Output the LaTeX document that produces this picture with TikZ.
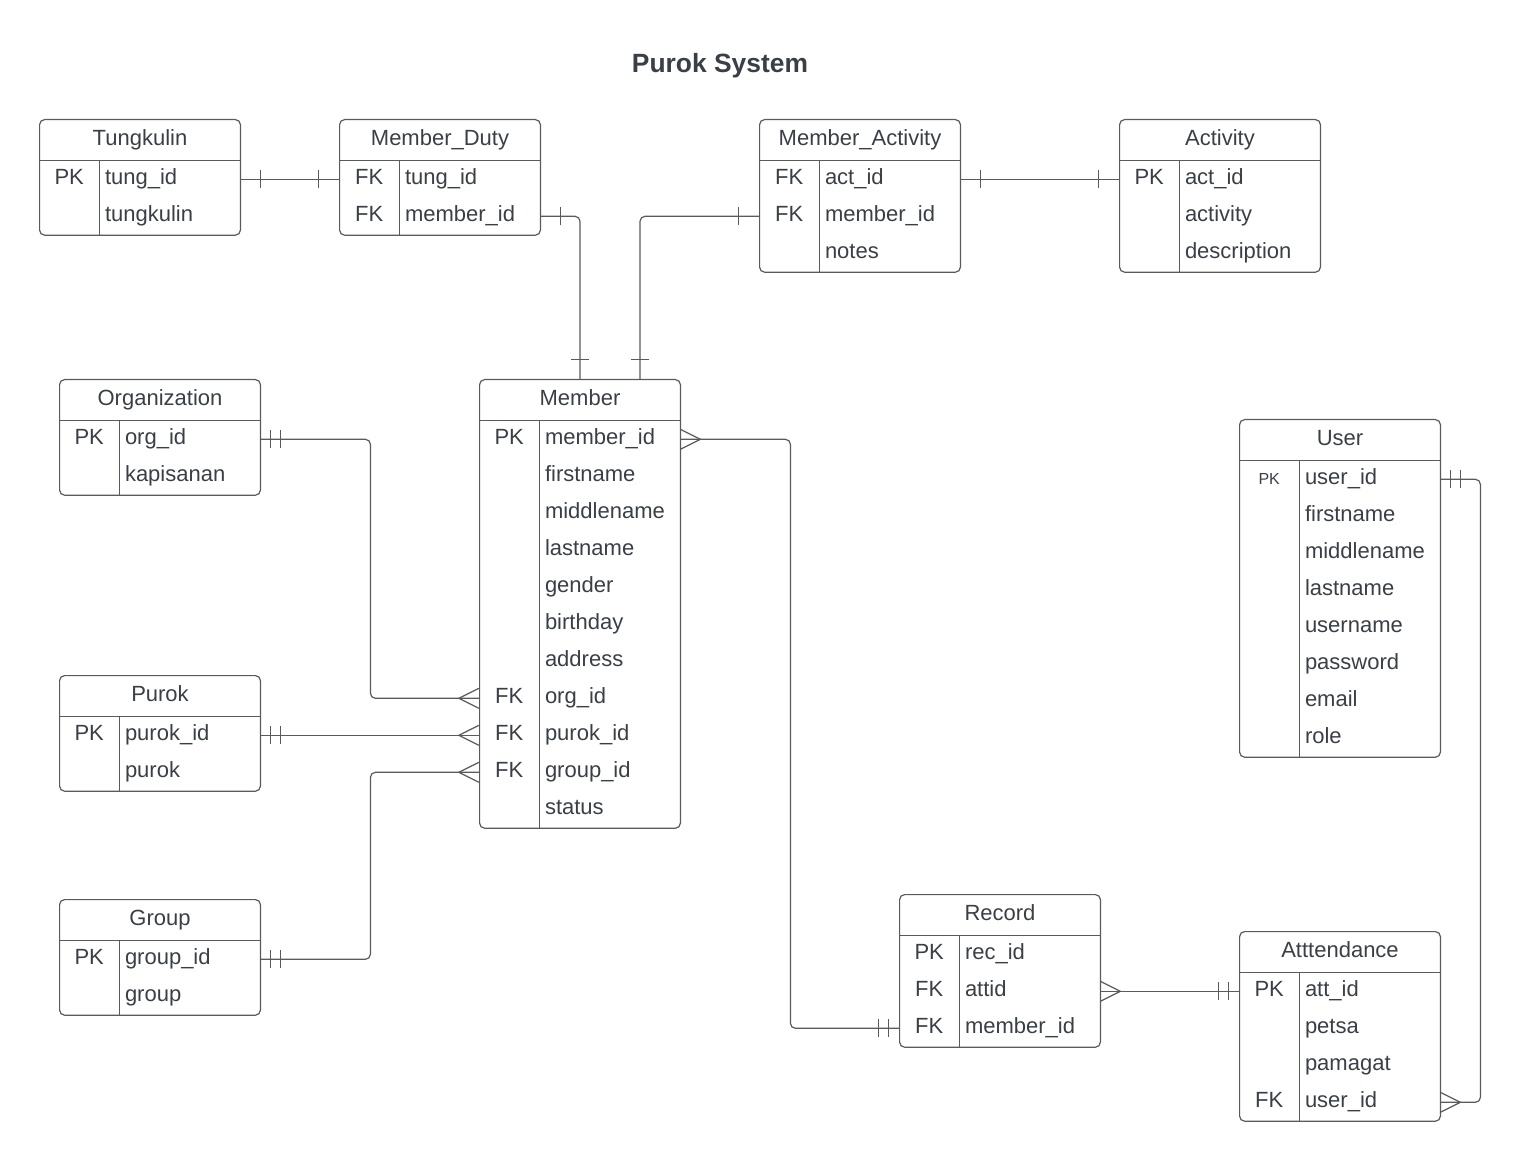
\documentclass[tikz,border=0pt]{standalone}
\usepackage{fontspec}
\setmainfont{Liberation Sans}
\usepackage{tikz}
\usepackage{xcolor}
\usetikzlibrary{calc,positioning}
\definecolor{inkgray}{HTML}{3A3F47}
\definecolor{linegray}{HTML}{5A5A5A}

% ER end marks
\pgfdeclarearrow{
	name = erone,
	setup code = {
		\pgfarrowssettipend{0pt}
		\pgfarrowssetlineend{0pt}
		\pgfarrowssetbackend{-10pt}
		\pgfarrowshullpoint{0pt}{4.5pt}
		\pgfarrowshullpoint{0pt}{-4.5pt}
		\pgfarrowshullpoint{-10pt}{4.5pt}
		\pgfarrowshullpoint{-10pt}{-4.5pt}
	},
	drawing code = {
		\pgfpathmoveto{\pgfpoint{-10pt}{4.5pt}}
		\pgfpathlineto{\pgfpoint{-10pt}{-4.5pt}}
		\pgfusepathqstroke
	}
}
\pgfdeclarearrow{
	name = ertwo,
	setup code = {
		\pgfarrowssettipend{0pt}
		\pgfarrowssetlineend{0pt}
		\pgfarrowssetbackend{-10pt}
		\pgfarrowshullpoint{0pt}{4.5pt}
		\pgfarrowshullpoint{0pt}{-4.5pt}
		\pgfarrowshullpoint{-10pt}{4.5pt}
		\pgfarrowshullpoint{-10pt}{-4.5pt}
	},
	drawing code = {
		\pgfpathmoveto{\pgfpoint{-5pt}{4.5pt}}
		\pgfpathlineto{\pgfpoint{-5pt}{-4.5pt}}
		\pgfpathmoveto{\pgfpoint{-10pt}{4.5pt}}
		\pgfpathlineto{\pgfpoint{-10pt}{-4.5pt}}
		\pgfusepathqstroke
	}
}
\pgfdeclarearrow{
	name = ermany,
	setup code = {
		\pgfarrowssettipend{0pt}
		\pgfarrowssetlineend{0pt}
		\pgfarrowssetbackend{-10pt}
		\pgfarrowshullpoint{0pt}{5pt}
		\pgfarrowshullpoint{0pt}{-5pt}
		\pgfarrowshullpoint{-10pt}{0pt}
	},
	drawing code = {
		\pgfpathmoveto{\pgfpoint{0pt}{5pt}}
		\pgfpathlineto{\pgfpoint{-10pt}{0pt}}
		\pgfpathlineto{\pgfpoint{0pt}{-5pt}}
		\pgfusepathqstroke
	}
}

\tikzset{%
	tabhead/.style = {minimum width=100pt, minimum height=20pt, inner sep=0pt, text centered, text height=8pt, text depth=2.5pt},
	field/.style   = {anchor=north east, text width=65pt, inner xsep=2.5pt, inner ysep=0pt, minimum height=18.5pt, align=left, text height=8pt, text depth=2.5pt},
	key/.style     = {minimum width=30pt, minimum height=18.5pt, inner sep=0pt, text centered, text height=8pt, text depth=2.5pt},
	tabbox/.style  = {draw=linegray, line width=0.6pt, rounded corners=2.5pt},
	tabline/.style = {draw=linegray, line width=0.6pt},
	rel/.style     = {draw=linegray, line width=0.6pt, rounded corners=2.5pt},
}

\begin{document}
\begin{tikzpicture}[x=0.5pt, y=-0.5pt, font=\fontsize{11}{13}\selectfont, text=inkgray]
	\useasboundingbox (0,0) rectangle (1521,1160);
	\node[font=\bfseries\fontsize{13.2}{15}\selectfont] (title) at (720,66) {Purok System};
	
	% Tungkulin
	\node[tabhead] (tung) at (140,140) {Tungkulin};
	\foreach \ky/\fd [count=\i] in {PK/tung\_id, /tungkulin}{
		\node[field] (tung-\i) at ([yshift={-(\i-1)*18.5pt}]tung.south east) {\fd};
		\node[key, left=0pt of tung-\i] (tung-k\i) {\ky};
	}
	\draw[tabbox] (tung.north west) rectangle (tung-2.south east);
	\draw[tabline] (tung.south west) -- (tung.south east);
	\draw[tabline] (tung-1.north west) -- (tung-2.south west);
	
	% Member_Duty
	\node[tabhead] (md) at (440,140) {Member\_Duty};
	\foreach \ky/\fd [count=\i] in {FK/tung\_id, FK/member\_id}{
		\node[field] (md-\i) at ([yshift={-(\i-1)*18.5pt}]md.south east) {\fd};
		\node[key, left=0pt of md-\i] (md-k\i) {\ky};
	}
	\draw[tabbox] (md.north west) rectangle (md-2.south east);
	\draw[tabline] (md.south west) -- (md.south east);
	\draw[tabline] (md-1.north west) -- (md-2.south west);
	
	% Member_Activity
	\node[tabhead] (ma) at (860,140) {Member\_Activity};
	\foreach \ky/\fd [count=\i] in {FK/act\_id, FK/member\_id, /notes}{
		\node[field] (ma-\i) at ([yshift={-(\i-1)*18.5pt}]ma.south east) {\fd};
		\node[key, left=0pt of ma-\i] (ma-k\i) {\ky};
	}
	\draw[tabbox] (ma.north west) rectangle (ma-3.south east);
	\draw[tabline] (ma.south west) -- (ma.south east);
	\draw[tabline] (ma-1.north west) -- (ma-3.south west);
	
	% Activity
	\node[tabhead] (act) at (1220,140) {Activity};
	\foreach \ky/\fd [count=\i] in {PK/act\_id, /activity, /description}{
		\node[field] (act-\i) at ([yshift={-(\i-1)*18.5pt}]act.south east) {\fd};
		\node[key, left=0pt of act-\i] (act-k\i) {\ky};
	}
	\draw[tabbox] (act.north west) rectangle (act-3.south east);
	\draw[tabline] (act.south west) -- (act.south east);
	\draw[tabline] (act-1.north west) -- (act-3.south west);
	
	% Organization
	\node[tabhead] (org) at (160,400) {Organization};
	\foreach \ky/\fd [count=\i] in {PK/org\_id, /kapisanan}{
		\node[field] (org-\i) at ([yshift={-(\i-1)*18.5pt}]org.south east) {\fd};
		\node[key, left=0pt of org-\i] (org-k\i) {\ky};
	}
	\draw[tabbox] (org.north west) rectangle (org-2.south east);
	\draw[tabline] (org.south west) -- (org.south east);
	\draw[tabline] (org-1.north west) -- (org-2.south west);
	
	% Member
	\node[tabhead] (mem) at (580,400) {Member};
	\foreach \ky/\fd [count=\i] in {PK/member\_id, /firstname, /middlename, /lastname, /gender, /birthday, /address, FK/org\_id, FK/purok\_id, FK/group\_id, /status}{
		\node[field] (mem-\i) at ([yshift={-(\i-1)*18.5pt}]mem.south east) {\fd};
		\node[key, left=0pt of mem-\i] (mem-k\i) {\ky};
	}
	\draw[tabbox] (mem.north west) rectangle (mem-11.south east);
	\draw[tabline] (mem.south west) -- (mem.south east);
	\draw[tabline] (mem-1.north west) -- (mem-11.south west);
	
	% Purok
	\node[tabhead] (pur) at (160,696) {Purok};
	\foreach \ky/\fd [count=\i] in {PK/purok\_id, /purok}{
		\node[field] (pur-\i) at ([yshift={-(\i-1)*18.5pt}]pur.south east) {\fd};
		\node[key, left=0pt of pur-\i] (pur-k\i) {\ky};
	}
	\draw[tabbox] (pur.north west) rectangle (pur-2.south east);
	\draw[tabline] (pur.south west) -- (pur.south east);
	\draw[tabline] (pur-1.north west) -- (pur-2.south west);
	
	% Group
	\node[tabhead] (grp) at (160,920) {Group};
	\foreach \ky/\fd [count=\i] in {PK/group\_id, /group}{
		\node[field] (grp-\i) at ([yshift={-(\i-1)*18.5pt}]grp.south east) {\fd};
		\node[key, left=0pt of grp-\i] (grp-k\i) {\ky};
	}
	\draw[tabbox] (grp.north west) rectangle (grp-2.south east);
	\draw[tabline] (grp.south west) -- (grp.south east);
	\draw[tabline] (grp-1.north west) -- (grp-2.south west);
	
	% User
	\node[tabhead] (usr) at (1340,440) {User};
	\foreach \ky/\fd [count=\i] in {{\footnotesize PK}/user\_id, /firstname, /middlename, /lastname, /username, /password, /email, /role}{
		\node[field] (usr-\i) at ([yshift={-(\i-1)*18.5pt}]usr.south east) {\fd};
		\node[key, left=0pt of usr-\i] (usr-k\i) {\ky};
	}
	\draw[tabbox] (usr.north west) rectangle (usr-8.south east);
	\draw[tabline] (usr.south west) -- (usr.south east);
	\draw[tabline] (usr-1.north west) -- (usr-8.south west);
	
	% Record
	\node[tabhead] (rec) at (1000,915) {Record};
	\foreach \ky/\fd [count=\i] in {PK/rec\_id, FK/attid, FK/member\_id}{
		\node[field] (rec-\i) at ([yshift={-(\i-1)*18.5pt}]rec.south east) {\fd};
		\node[key, left=0pt of rec-\i] (rec-k\i) {\ky};
	}
	\draw[tabbox] (rec.north west) rectangle (rec-3.south east);
	\draw[tabline] (rec.south west) -- (rec.south east);
	\draw[tabline] (rec-1.north west) -- (rec-3.south west);
	
	% Atttendance
	\node[tabhead] (att) at (1340,952) {Atttendance};
	\foreach \ky/\fd [count=\i] in {PK/att\_id, /petsa, /pamagat, FK/user\_id}{
		\node[field] (att-\i) at ([yshift={-(\i-1)*18.5pt}]att.south east) {\fd};
		\node[key, left=0pt of att-\i] (att-k\i) {\ky};
	}
	\draw[tabbox] (att.north west) rectangle (att-4.south east);
	\draw[tabline] (att.south west) -- (att.south east);
	\draw[tabline] (att-1.north west) -- (att-4.south west);
	
	% relationships
	\draw[rel, erone-erone] (tung-1.east) -- (md-k1.west);
	\draw[rel, erone-erone] (md-2.east) -| (mem.north);
	\draw[rel, erone-erone] (ma-k2.west) -| ([xshift=30pt]mem.north);
	\draw[rel, erone-erone] (ma-1.east) -- (act-k1.west);
	\draw[rel, ertwo-ermany] (org-1.east) -- ++(110,0) |- (mem-k8.west);
	\draw[rel, ertwo-ermany] (pur-1.east) -- (mem-k9.west);
	\draw[rel, ertwo-ermany] (grp-1.east) -- ++(110,0) |- (mem-k10.west);
	\draw[rel, ermany-ertwo] (mem-1.east) -- ++(110,0) |- (rec-k3.west);
	\draw[rel, ermany-ertwo] (rec-2.east) -- (att-k1.west);
	\draw[rel, ertwo-ermany] (usr-1.east) -- ++(40,0) |- (att-4.east);
\end{tikzpicture}
\end{document}
